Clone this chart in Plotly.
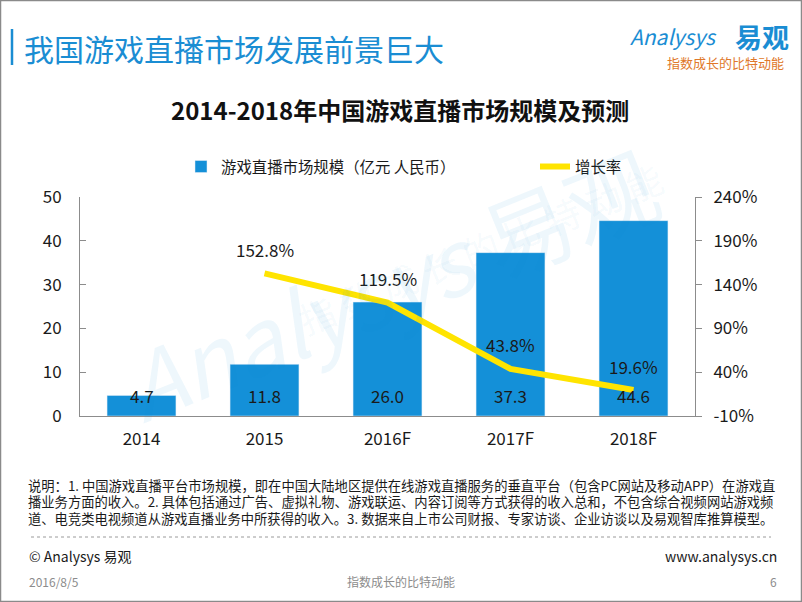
import plotly.graph_objects as go

# ---- data ----
categories = ["2014", "2015", "2016F", "2017F", "2018F"]
market_size = [4.7, 11.8, 26.0, 37.3, 44.6]
growth_cats = ["2015", "2016F", "2017F", "2018F"]
growth_rate = [152.8, 119.5, 43.8, 19.6]
left_ticks = [0, 10, 20, 30, 40, 50]
right_ticks = [-10, 40, 90, 140, 190, 240]

bar_name = "游戏直播市场规模（亿元 人民币）"
line_name = "增长率"
header = "我国游戏直播市场发展前景巨大"
chart_title = "2014-2018年中国游戏直播市场规模及预测"
note_lines = [
    "说明：1. 中国游戏直播平台市场规模，即在中国大陆地区提供在线游戏直播服务的垂直平台（包含PC网站及移动APP）在游戏直",
    "播业务方面的收入。2. 具体包括通过广告、虚拟礼物、游戏联运、内容订阅等方式获得的收入总和，不包含综合视频网站游戏频",
    "道、电竞类电视频道从游戏直播业务中所获得的收入。3. 数据来自上市公司财报、专家访谈、企业访谈以及易观智库推算模型。",
]

W, H = 802, 602
L, R, T, B = 80, 695, 197, 416
FONT = "Noto Sans CJK SC, Noto Sans, sans-serif"
BLUE = "#1490D8"
YELLOW = "#FFE400"


def fx(px):
    return (px - L) / (R - L)


def fy(py):
    return (B - py) / (B - T)


fig = go.Figure()
fig.add_trace(go.Bar(
    x=categories, y=market_size, name=bar_name, marker_color=BLUE,
    xaxis="x", yaxis="y", legend="legend",
))
fig.add_trace(go.Scatter(
    x=growth_cats, y=growth_rate, name=line_name, mode="lines",
    line=dict(color=YELLOW, width=6), xaxis="x", yaxis="y2", legend="legend2",
))

ann = []
# bar value labels (x given as category index so numeric-looking names are not misread)
for i, v in enumerate(market_size):
    ann.append(dict(x=i, y=0, xref="x", yref="y", text=f"{v:.1f}", showarrow=False,
                    yanchor="middle", yshift=21,
                    font=dict(size=17, color="#1a1a1a", family=FONT)))
# growth labels
for c, v in zip(growth_cats, growth_rate):
    ann.append(dict(x=categories.index(c), y=v, xref="x", yref="y2", text=f"{v:.1f}%",
                    showarrow=False, yanchor="middle", yshift=24,
                    font=dict(size=17, color="#1a1a1a", family=FONT)))

# watermark
ann.append(dict(x=fx(390), y=fy(282), xref="paper", yref="paper", text="<i>Analysys</i> 易观",
                showarrow=False, textangle=-22,
                font=dict(size=90, color="rgba(20,144,216,0.07)", family=FONT)))
ann.append(dict(x=fx(480), y=fy(348), xref="paper", yref="paper", text="指 数 成 长 的 比 特 动 能",
                showarrow=False, textangle=-22,
                font=dict(size=36, color="rgba(20,144,216,0.05)", family=FONT)))

# header
ann.append(dict(x=fx(22), y=fy(48), xref="paper", yref="paper", text=header, showarrow=False,
                xanchor="left", yanchor="middle",
                font=dict(size=30, color="#1A8DD3", family=FONT)))
# logo
ann.append(dict(x=fx(719), y=fy(36), xref="paper", yref="paper", text="<i>Analysys</i>", showarrow=False,
                xanchor="right", yanchor="middle",
                font=dict(size=21, color="#1A8DD3", family=FONT)))
ann.append(dict(x=fx(791), y=fy(36), xref="paper", yref="paper", text="<b>易观</b>", showarrow=False,
                xanchor="right", yanchor="middle",
                font=dict(size=27, color="#1A8DD3", family=FONT)))
ann.append(dict(x=fx(786), y=fy(63), xref="paper", yref="paper", text="指数成长的比特动能", showarrow=False,
                xanchor="right", yanchor="middle",
                font=dict(size=13, color="#E0782A", family=FONT)))
# chart title
ann.append(dict(x=fx(400), y=fy(109), xref="paper", yref="paper", text=f"<b>{chart_title}</b>",
                showarrow=False, xanchor="center", yanchor="middle",
                font=dict(size=24, color="#111111", family=FONT)))
# notes, one line per annotation to match the tight line spacing
for k, line in enumerate(note_lines):
    ann.append(dict(x=fx(26), y=fy(485 + 16.7 * k), xref="paper", yref="paper", text=line,
                    showarrow=False, xanchor="left", yanchor="middle", align="left",
                    font=dict(size=13.3, color="#1a1a1a", family=FONT)))
# footer
ann.append(dict(x=fx(27), y=fy(556), xref="paper", yref="paper", text="© Analysys 易观",
                showarrow=False, xanchor="left", yanchor="middle",
                font=dict(size=14, color="#1a1a1a", family=FONT)))
ann.append(dict(x=fx(779), y=fy(556), xref="paper", yref="paper", text="www.analysys.cn",
                showarrow=False, xanchor="right", yanchor="middle",
                font=dict(size=14, color="#1a1a1a", family=FONT)))
ann.append(dict(x=fx(27), y=fy(581), xref="paper", yref="paper", text="2016/8/5",
                showarrow=False, xanchor="left", yanchor="middle",
                font=dict(size=12, color="#8c8c8c", family=FONT)))
ann.append(dict(x=fx(401), y=fy(581), xref="paper", yref="paper", text="指数成长的比特动能",
                showarrow=False, xanchor="center", yanchor="middle",
                font=dict(size=12, color="#8c8c8c", family=FONT)))
ann.append(dict(x=fx(779), y=fy(581), xref="paper", yref="paper", text="6",
                showarrow=False, xanchor="right", yanchor="middle",
                font=dict(size=12, color="#8c8c8c", family=FONT)))

shapes = [
    dict(type="line", xref="paper", yref="paper", x0=fx(12), x1=fx(12), y0=fy(29), y1=fy(65),
         line=dict(color="#1A8DD3", width=2.5)),
    dict(type="line", xref="paper", yref="paper", x0=fx(31), x1=fx(771), y0=fy(537), y1=fy(537),
         line=dict(color="#9a9a9a", width=1, dash="dot")),
    dict(type="rect", xref="paper", yref="paper", x0=fx(0.5), x1=fx(W - 0.5), y0=fy(0.5), y1=fy(H - 0.5),
         line=dict(color="#8a8a8a", width=1.5), layer="below"),
]

legend_font = dict(size=15.4, color="#1a1a1a", family=FONT)
fig.update_layout(
    width=W, height=H,
    margin=dict(l=L, r=W - R, t=T, b=H - B, pad=0, autoexpand=False),
    paper_bgcolor="white", plot_bgcolor="white",
    font=dict(family=FONT, color="#1a1a1a"),
    bargap=0.44,
    showlegend=True,
    legend=dict(orientation="h", x=fx(181), y=fy(167), xanchor="left", yanchor="middle",
                font=legend_font, bgcolor="rgba(0,0,0,0)"),
    legend2=dict(orientation="h", x=fx(535), y=fy(167), xanchor="left", yanchor="middle",
                 font=legend_font, bgcolor="rgba(0,0,0,0)"),
    annotations=ann,
    shapes=shapes,
    xaxis=dict(type="category", categoryorder="array", categoryarray=categories,
               showline=True, linecolor="#8c8c8c", linewidth=1, ticks="", showgrid=False,
               tickfont=dict(size=17, color="#1a1a1a"), ticklabelstandoff=8, automargin=False),
    yaxis=dict(range=[0, 50], tickvals=left_ticks, showline=True, linecolor="#8c8c8c", linewidth=1,
               ticks="inside", ticklen=6, tickcolor="#8c8c8c", showgrid=False, zeroline=False,
               tickfont=dict(size=17, color="#1a1a1a"), ticklabelstandoff=14, automargin=False),
    yaxis2=dict(range=[-10, 240], tickvals=right_ticks, ticktext=[f"{t}%" for t in right_ticks],
                overlaying="y", side="right", anchor="x", showline=True, linecolor="#8c8c8c",
                linewidth=1, ticks="outside", ticklen=6, tickcolor="#8c8c8c", showgrid=False,
                zeroline=False, tickfont=dict(size=17, color="#1a1a1a"), ticklabelstandoff=8,
                automargin=False),
)

fig.write_html("out.html", config={"displayModeBar": False},
               post_script="document.body.style.margin='0';document.body.style.overflow='hidden';")
